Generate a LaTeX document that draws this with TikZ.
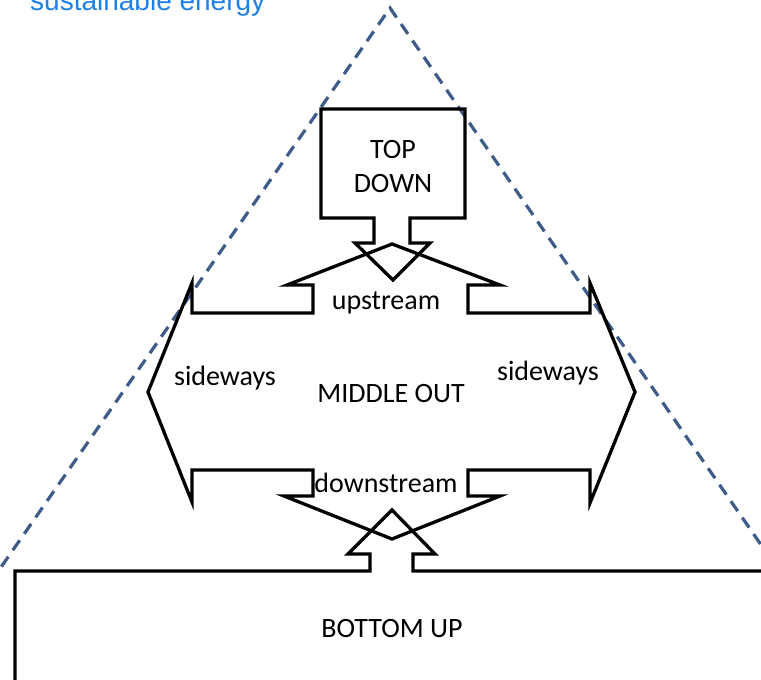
\documentclass[tikz,border=0pt]{standalone}
\usepackage{fontspec}
\setmainfont{Carlito}
\newfontfamily\titlefont{Liberation Sans}
\usetikzlibrary{positioning}
\definecolor{guideblue}{RGB}{62,92,138}
\definecolor{titleblue}{RGB}{30,128,230}

\begin{document}
\begin{tikzpicture}[
  x=1pt, y=-1pt,
  outline/.style={line width=3.3pt, black, line join=miter},
  guide/.style={line width=3.2pt, guideblue, dash pattern=on 12pt off 8pt},
  every node/.style={font=\fontsize{28}{34}\selectfont, inner sep=0pt}
]
\useasboundingbox (0,0) rectangle (761,680);
\clip (0,0) rectangle (761,680);

%% ── Title (cut at the top edge) ──────────────────────────────────────
\node[anchor=base west, font=\titlefont\fontsize{28}{34}\selectfont,
      text=titleblue] (title) at (30,10) {sustainable energy};

%% ── Dashed pyramid ───────────────────────────────────────────────────
\coordinate (apex)  at (390,8);
\coordinate (baseL) at (-10,583);
\coordinate (baseR) at (775,565);
\draw[guide] (baseL) -- (apex) -- (baseR);

%% ── Top down box with arrow ──────────────────────────────────────────
\draw[outline] (321,109) -- (465,109) -- (465,218) -- (410,218)
    -- (410,243) -- (430,243) -- (393,280) -- (355,243) -- (374,243)
    -- (374,218) -- (321,218) -- cycle;
\node[anchor=base] (TD)  at (393,158) {TOP};
\node[anchor=base] (TD2) at (393,192) {DOWN};

%% ── Middle out: four-way arrow ───────────────────────────────────────
\draw[outline] (392,244) -- (500,285) -- (468,285) -- (468,313)
    -- (590,313) -- (590,283) -- (635,392) -- (590,503) -- (590,470)
    -- (468,470) -- (468,496) -- (500,496) -- (392,539) -- (284,496)
    -- (313,496) -- (313,470) -- (192,470) -- (192,502) -- (148,392)
    -- (192,283) -- (192,313) -- (313,313) -- (313,285) -- (287,285)
    -- cycle;
\node[anchor=base] (MO)   at (391,402) {MIDDLE OUT};
\node[anchor=base] (up)   at (386,309) {upstream};
\node[anchor=base] (down) at (386,492) {downstream};
\node[anchor=base] (sideL) at (225,385) {sideways};
\node[anchor=base] (sideR) at (548,380) {sideways};

%% ── Bottom up box with arrow ─────────────────────────────────────────
\draw[outline] (15,571) -- (370,571) -- (370,554) -- (348,554)
    -- (392,510) -- (435,554) -- (413,554) -- (413,571) -- (790,571)
    -- (790,720) -- (15,720) -- cycle;
\node[anchor=base] (BU) at (392,637) {BOTTOM UP};

\end{tikzpicture}
\end{document}
